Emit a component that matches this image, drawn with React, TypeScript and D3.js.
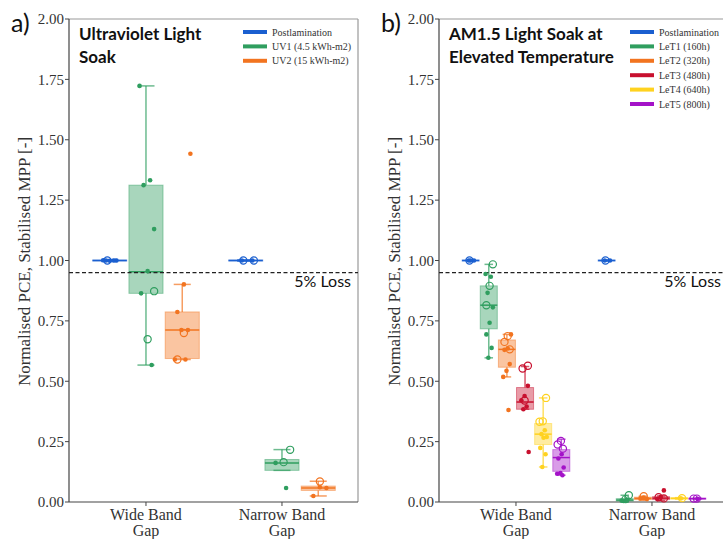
import React from "react";
import * as d3 from "d3";

// categories on the x axis (two text lines each)
const categories = [
  ["Wide Band", "Gap"],
  ["Narrow Band", "Gap"],
];
const yTicks = [0, 0.25, 0.5, 0.75, 1.0, 1.25, 1.5, 1.75, 2.0];
const lossLevel = 0.95;

// panel a) UV light soak
const uvSeries = ["Postlamination", "UV1 (4.5 kWh-m2)", "UV2 (15 kWh-m2)"];
const uvColors = ["#1a5fd0", "#2f9e5f", "#f27420"];
// [whisker low, q1, median, q3, whisker high] for [wide, narrow]
const uvBoxes = [
  [[0.996, 0.998, 1.0, 1.002, 1.004], [0.997, 0.998, 1.0, 1.002, 1.003]],
  [[0.567, 0.864, 0.953, 1.312, 1.723], [0.131, 0.131, 0.162, 0.176, 0.217]],
  [[0.59, 0.594, 0.712, 0.787, 0.901], [0.025, 0.048, 0.058, 0.066, 0.086]],
];
const uvFilled = [
  [[1.0, 1.0, 0.999, 1.001, 1.0], [1.0, 1.0]],
  [[1.723, 1.332, 1.312, 1.13, 0.956, 0.864, 0.567], [0.162, 0.058]],
  [[1.442, 0.901, 0.787, 0.712, 0.712, 0.59, 0.59], [0.058, 0.061, 0.025]],
];
const uvOpen = [
  [[1.0], [1.0, 1.0]],
  [[0.873, 0.674], [0.216, 0.165]],
  [[0.7, 0.59], [0.085]],
];

// panel b) AM1.5 light soak at elevated temperature
const letSeries = ["Postlamination", "LeT1 (160h)", "LeT2 (320h)", "LeT3 (480h)", "LeT4 (640h)", "LeT5 (800h)"];
const letColors = ["#1a5fd0", "#2f9e5f", "#f27420", "#c8102e", "#ffd21f", "#a412c8"];
const letBoxes = [
  [[0.997, 0.998, 1.0, 1.002, 1.003], [0.997, 0.998, 1.0, 1.002, 1.003]],
  [[0.597, 0.717, 0.815, 0.895, 0.984], [0.0, 0.004, 0.008, 0.014, 0.028]],
  [[0.518, 0.558, 0.632, 0.671, 0.694], [0.008, 0.01, 0.015, 0.02, 0.024]],
  [[0.384, 0.384, 0.414, 0.474, 0.561], [0.006, 0.01, 0.016, 0.022, 0.025]],
  [[0.145, 0.238, 0.281, 0.325, 0.431], [0.012, 0.012, 0.015, 0.018, 0.018]],
  [[0.111, 0.127, 0.184, 0.217, 0.26], [0.012, 0.012, 0.014, 0.016, 0.016]],
];
const letFilled = [
  [[1.0, 1.0, 1.0], [1.0, 1.0]],
  [[0.944, 0.933, 0.866, 0.806, 0.742, 0.694, 0.638, 0.597], [0.006, 0.01, 0.004]],
  [[0.694, 0.636, 0.63, 0.571, 0.543, 0.518, 0.381], [0.012, 0.018, 0.015]],
  [[0.481, 0.439, 0.421, 0.395, 0.384, 0.207], [0.048, 0.02, 0.012]],
  [[0.297, 0.281, 0.269, 0.266, 0.224, 0.198, 0.145], [0.015]],
  [[0.198, 0.18, 0.143, 0.12, 0.117, 0.111], [0.013]],
];
const letOpen = [
  [[1.0], [1.0]],
  [[0.984, 0.895, 0.815], [0.028, 0.012]],
  [[0.687, 0.663, 0.632], [0.024]],
  [[0.553, 0.564, 0.42], [0.02, 0.015]],
  [[0.431, 0.334, 0.332], [0.016]],
  [[0.253, 0.238, 0.221], [0.014, 0.014]],
];

const SERIF = "Liberation Serif, DejaVu Serif, serif";
const SANS = "Lato, Liberation Sans, sans-serif";
const TOP = 19;
const BOTTOM = 502;
const WIDTH = 289;

type PanelProps = {
  x0: number;
  tag: string;
  title: string[];
  series: string[];
  colors: string[];
  boxes: number[][][];
  filled: number[][][];
  open: number[][][];
  legendX: number;
  legendW: number;
};

const Panel = ({ x0, tag, title, series, colors, boxes, filled, open, legendX, legendW }: PanelProps) => {
  const y = d3.scaleLinear().domain([0, 2]).range([BOTTOM, TOP]);
  const x = d3.scaleLinear().domain([-0.566, 1.559]).range([x0, x0 + WIDTH]);
  const n = series.length;
  const slot = 0.8 / n;
  const bw = (x(slot) - x(0)) * 0.94;
  const off = (i: number) => -0.4 + (i + 0.5) * slot;
  // deterministic strip jitter
  const jit = (k: number) => (((k * 0.618034 + 0.27) % 1) - 0.5) * 0.5 * bw;
  const fmt = d3.format(".2f");

  return (
    <g>
      {/* frame */}
      <line x1={x0} x2={x0 + WIDTH} y1={TOP} y2={TOP} stroke="#999" strokeWidth={1.2} />
      <line x1={x0 + WIDTH} x2={x0 + WIDTH} y1={TOP} y2={BOTTOM} stroke="#999" strokeWidth={1.2} />
      <line x1={x0} x2={x0} y1={TOP} y2={BOTTOM} stroke="#444" strokeWidth={1.2} />
      <line x1={x0} x2={x0 + WIDTH} y1={BOTTOM} y2={BOTTOM} stroke="#444" strokeWidth={1.2} />

      {yTicks.map((t) => (
        <g key={t}>
          <line x1={x0 - 4} x2={x0} y1={y(t)} y2={y(t)} stroke="#444" />
          <text x={x0 - 5} y={y(t)} dy="0.35em" textAnchor="end" style={{ fontFamily: SERIF }} fontSize={15} fill="#333">
            {fmt(t)}
          </text>
        </g>
      ))}
      {categories.map((c, ci) => (
        <g key={ci}>
          <line x1={x(ci)} x2={x(ci)} y1={BOTTOM} y2={BOTTOM + 4} stroke="#444" />
          {c.map((s, li) => (
            <text key={li} x={x(ci)} y={520 + li * 15.5} textAnchor="middle" style={{ fontFamily: SERIF }} fontSize={16} fill="#333">
              {s}
            </text>
          ))}
        </g>
      ))}
      <text
        transform={`translate(${x0 - 45},${(TOP + BOTTOM) / 2 + 1}) rotate(-90)`}
        textAnchor="middle"
        dy="0.35em"
        style={{ fontFamily: SERIF }}
        fontSize={17}
        fill="#333"
      >
        Normalised PCE, Stabilised MPP [-]
      </text>
      <text x={x0 - 58} y={32} style={{ fontFamily: SANS }} fontSize={25} fill="#111">
        {tag}
      </text>

      {/* boxes */}
      {series.map((s, si) =>
        categories.map((c, ci) => {
          const [lo, q1, md, q3, hi] = boxes[si][ci];
          const cx = x(ci + off(si));
          const col = colors[si];
          return (
            <g key={s + ci}>
              <line x1={cx} x2={cx} y1={y(hi)} y2={y(q3)} stroke={col} strokeOpacity={0.7} strokeWidth={1.5} />
              <line x1={cx} x2={cx} y1={y(q1)} y2={y(lo)} stroke={col} strokeOpacity={0.7} strokeWidth={1.5} />
              <line x1={cx - bw / 4} x2={cx + bw / 4} y1={y(hi)} y2={y(hi)} stroke={col} strokeOpacity={0.7} strokeWidth={1.5} />
              <line x1={cx - bw / 4} x2={cx + bw / 4} y1={y(lo)} y2={y(lo)} stroke={col} strokeOpacity={0.7} strokeWidth={1.5} />
              <rect
                x={cx - bw / 2}
                y={y(q3)}
                width={bw}
                height={Math.max(y(q1) - y(q3), 1)}
                fill={col}
                fillOpacity={0.42}
                stroke={col}
                strokeOpacity={0.45}
                strokeWidth={1}
              />
              <line x1={cx - bw / 2} x2={cx + bw / 2} y1={y(md)} y2={y(md)} stroke={col} strokeWidth={1.5} />
            </g>
          );
        })
      )}

      {/* 5% loss line */}
      <line x1={x0} x2={x0 + WIDTH} y1={y(lossLevel)} y2={y(lossLevel)} stroke="#222" strokeWidth={1.1} strokeDasharray="4,2.5" />
      <text x={x0 + WIDTH - 7} y={y(lossLevel) + 14} textAnchor="end" style={{ fontFamily: SANS }} fontSize={16} fill="#111">
        5% Loss
      </text>

      {/* strip points */}
      {series.map((s, si) =>
        categories.map((c, ci) => {
          const cx = x(ci + off(si));
          const col = colors[si];
          return (
            <g key={"p" + s + ci}>
              {filled[si][ci].map((v, k) => (
                <circle key={"f" + k} cx={cx + jit(k + si * 3)} cy={y(v)} r={2.3} fill={col} />
              ))}
              {open[si][ci].map((v, k) => (
                <circle key={"o" + k} cx={cx + jit(k + 5 + si)} cy={y(v)} r={3.6} fill="none" stroke={col} strokeWidth={1.2} />
              ))}
            </g>
          );
        })
      )}

      {/* title */}
      {title.map((t, i) => (
        <text key={i} x={x0 + 10} y={40 + i * 22.5} style={{ fontFamily: SANS }} fontWeight="bold" fontSize={17} fill="#111">
          {t}
        </text>
      ))}

      {/* legend */}
      <rect x={legendX - 5} y={TOP + 3} width={legendW} height={series.length * 14.4 + 6} fill="#fff" fillOpacity={0.9} />
      {series.map((s, si) => (
        <g key={"l" + s}>
          <line x1={legendX} x2={legendX + 24} y1={32 + si * 14.4} y2={32 + si * 14.4} stroke={colors[si]} strokeWidth={4} />
          <text x={legendX + 29} y={32 + si * 14.4} dy="0.35em" style={{ fontFamily: SERIF }} fontSize={10} fill="#333">
            {s}
          </text>
        </g>
      ))}
    </g>
  );
};

export default function App() {
  return (
    <svg width={723} height={539} style={{ position: "absolute", left: 0, top: 0, background: "#fff" }}>
      <rect width={723} height={539} fill="#fff" />
      <Panel
        x0={69}
        tag="a)"
        title={["Ultraviolet Light", "Soak"]}
        series={uvSeries}
        colors={uvColors}
        boxes={uvBoxes}
        filled={uvFilled}
        open={uvOpen}
        legendX={243}
        legendW={114}
      />
      <Panel
        x0={439}
        tag="b)"
        title={["AM1.5 Light Soak at", "Elevated Temperature"]}
        series={letSeries}
        colors={letColors}
        boxes={letBoxes}
        filled={letFilled}
        open={letOpen}
        legendX={630}
        legendW={100}
      />
    </svg>
  );
}
